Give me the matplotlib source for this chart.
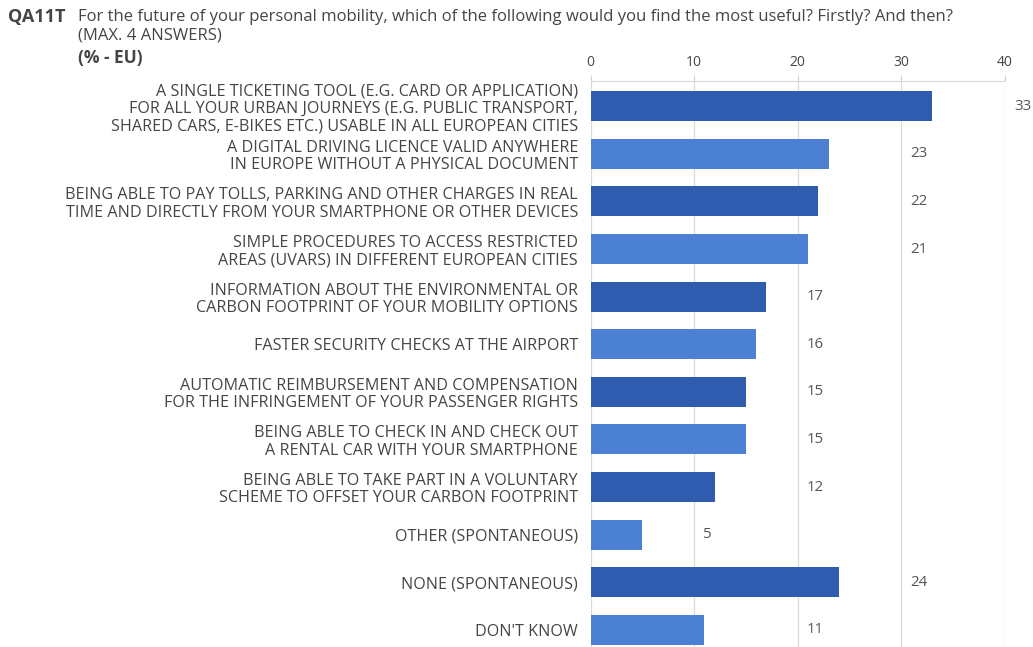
import matplotlib.pyplot as plt

plt.rcParams['font.family'] = ['Open Sans', 'DejaVu Sans']

labels = [
    "A SINGLE TICKETING TOOL (E.G. CARD OR APPLICATION)\nFOR ALL YOUR URBAN JOURNEYS (E.G. PUBLIC TRANSPORT,\nSHARED CARS, E-BIKES ETC.) USABLE IN ALL EUROPEAN CITIES",
    "A DIGITAL DRIVING LICENCE VALID ANYWHERE\nIN EUROPE WITHOUT A PHYSICAL DOCUMENT",
    "BEING ABLE TO PAY TOLLS, PARKING AND OTHER CHARGES IN REAL\nTIME AND DIRECTLY FROM YOUR SMARTPHONE OR OTHER DEVICES",
    "SIMPLE PROCEDURES TO ACCESS RESTRICTED\nAREAS (UVARS) IN DIFFERENT EUROPEAN CITIES",
    "INFORMATION ABOUT THE ENVIRONMENTAL OR\nCARBON FOOTPRINT OF YOUR MOBILITY OPTIONS",
    "FASTER SECURITY CHECKS AT THE AIRPORT",
    "AUTOMATIC REIMBURSEMENT AND COMPENSATION\nFOR THE INFRINGEMENT OF YOUR PASSENGER RIGHTS",
    "BEING ABLE TO CHECK IN AND CHECK OUT\nA RENTAL CAR WITH YOUR SMARTPHONE",
    "BEING ABLE TO TAKE PART IN A VOLUNTARY\nSCHEME TO OFFSET YOUR CARBON FOOTPRINT",
    "OTHER (SPONTANEOUS)",
    "NONE (SPONTANEOUS)",
    "DON'T KNOW",
]
values = [33, 23, 22, 21, 17, 16, 15, 15, 12, 5, 24, 11]
ticks = [0, 10, 20, 30, 40]

dark = "#2f5caf"
light = "#4b80d2"
grey = "#454545"

fig = plt.figure(figsize=(10.33, 6.47), dpi=100)
W, H = 1033, 647
x0, x1 = 590.5, 1004.5
ax = fig.add_axes([x0 / W, 0, (x1 - x0) / W, 1 - 81 / H])

pos = list(range(len(values)))
colors = [dark if i % 2 == 0 else light for i in pos]
ax.barh(pos, values, height=0.63, color=colors, zorder=3)
ax.set_xlim(0, 40)
ax.set_ylim(11.36, -0.53)

ax.xaxis.tick_top()
ax.set_xticks(ticks)
ax.tick_params(axis='x', length=4, color="#d0d0d0", labelsize=10, labelcolor=grey, pad=4)
ax.set_yticks(pos)
ax.set_yticklabels(labels, fontsize=11.6, color=grey, linespacing=1.1)
ax.tick_params(axis='y', length=0, pad=9)
ax.grid(axis='x', color="#d9d9d9", lw=0.9, zorder=0)
for s in ['right', 'bottom', 'left']:
    ax.spines[s].set_visible(False)
ax.spines['top'].set_color("#d9d9d9")

# value labels sit just past the next gridline after the bar end
for i, v in enumerate(values):
    lx = (v // 10 + 1) * 10 + 0.9
    ax.text(lx, i, str(v), va='center', ha='left', fontsize=10.8, color="#555555",
            clip_on=False)

fig.text(8 / W, 1 - 17 / H, "QA11T", fontsize=13, fontweight='bold', color=grey, va='center')
fig.text(78 / W, 1 - 17 / H,
         "For the future of your personal mobility, which of the following would you find the most useful? Firstly? And then?",
         fontsize=12, color=grey, va='center')
fig.text(78 / W, 1 - 36 / H, "(MAX. 4 ANSWERS)", fontsize=12, color=grey, va='center')
fig.text(78 / W, 1 - 58 / H, "(% - EU)", fontsize=12.5, fontweight='bold', color=grey, va='center')

fig.savefig("out.png", dpi=100)
